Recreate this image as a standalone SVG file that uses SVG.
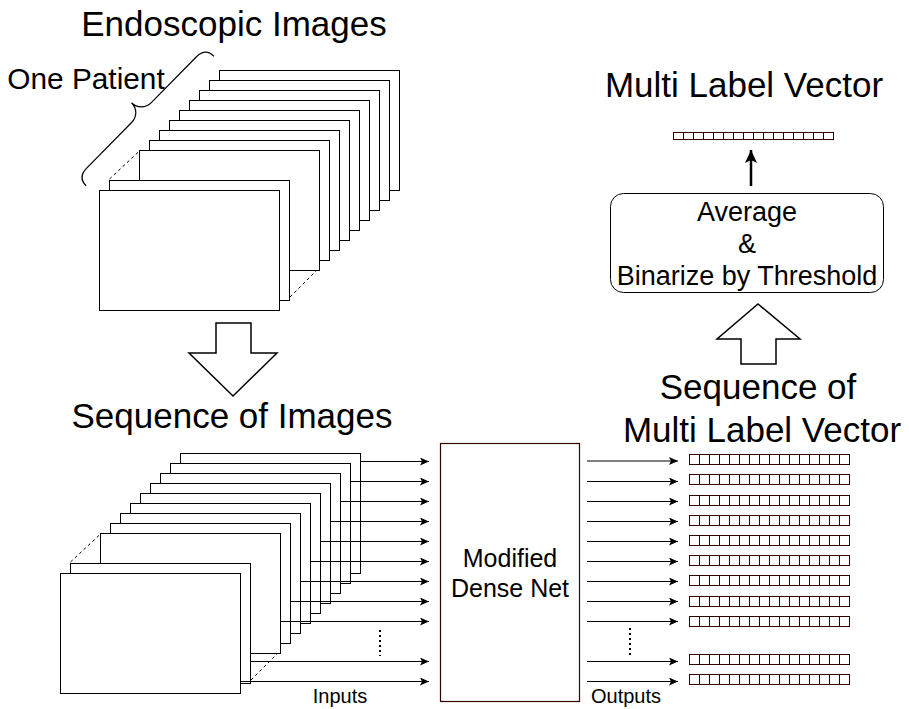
<svg xmlns="http://www.w3.org/2000/svg" xmlns:xlink="http://www.w3.org/1999/xlink" width="909" height="709" viewBox="0 0 909 709">
<style>
.img{fill:#fff;stroke:#000;stroke-width:1}
.dash{fill:none;stroke:#000;stroke-width:1;stroke-dasharray:3,3}
.dots{fill:none;stroke:#000;stroke-width:2;stroke-dasharray:2,3}
.conn{fill:none;stroke:#000;stroke-width:1}
.cell{fill:#fff;stroke:#330000;stroke-width:1}
.block{fill:#fff;stroke:#000;stroke-width:1.5}
text{font-family:"Liberation Sans",Arial,sans-serif;fill:#000}
.big{font-size:35px}
.mid{font-size:25px}
.sm{font-size:20px}
.box{font-size:27px}
</style>
<defs>
<marker id="ah" markerWidth="10" markerHeight="8" refX="9" refY="4" orient="auto" markerUnits="userSpaceOnUse">
<path d="M0,0 L9,4 L0,8 L2,4 Z" fill="#000"/>
</marker>
<marker id="ahBig" markerWidth="14" markerHeight="12" refX="13" refY="6" orient="auto" markerUnits="userSpaceOnUse">
<path d="M0,0 L13,6 L0,12 L3,6 Z" fill="#000"/>
</marker>
<g id="vec10">
<rect class="cell" x="0" y="0" width="160" height="10"/>
<path class="cell" d="M10,0v10M20,0v10M30,0v10M40,0v10M50,0v10M60,0v10M70,0v10M80,0v10M90,0v10M100,0v10M110,0v10M120,0v10M130,0v10M140,0v10M150,0v10"/>
</g>
<g id="vec7">
<rect class="cell" x="0" y="0" width="160" height="7"/>
<path class="cell" d="M10,0v7M20,0v7M30,0v7M40,0v7M50,0v7M60,0v7M70,0v7M80,0v7M90,0v7M100,0v7M110,0v7M120,0v7M130,0v7M140,0v7M150,0v7"/>
</g>
</defs>
<rect width="909" height="709" fill="#fff"/>

<g id="title-endoscopic"><text class="big" x="234" y="36" text-anchor="middle">Endoscopic Images</text></g>
<g id="label-one-patient"><text x="86" y="89" text-anchor="middle" style="font-size:29.8px">One Patient</text></g>
<g id="brace"><path d="M-91,0 C-91,-8 -86,-12 -78,-12 L-14,-12 C-6,-12 0,-18 0,-26 C0,-18 6,-12 14,-12 L78,-12 C86,-12 91,-8 91,0" fill="none" stroke="#000" stroke-width="1.2" transform="translate(150,121) rotate(-45.4)"/></g>

<g id="stack-top">
<rect class="img" x="219.5" y="70.5" width="180" height="120"/>
<rect class="img" x="209.5" y="80.5" width="180" height="120"/>
<rect class="img" x="199.5" y="90.5" width="180" height="120"/>
<rect class="img" x="189.5" y="100.5" width="180" height="120"/>
<rect class="img" x="179.5" y="110.5" width="180" height="120"/>
<rect class="img" x="169.5" y="120.5" width="180" height="120"/>
<rect class="img" x="159.5" y="130.5" width="180" height="120"/>
<rect class="img" x="149.5" y="140.5" width="180" height="120"/>
<rect class="img" x="139.5" y="150.5" width="180" height="120"/>
<path class="dash" d="M109.5,179 L139.5,151 M290,297 L316,271"/>
<rect class="img" x="109.5" y="180.5" width="180" height="120"/>
<rect class="img" x="99.5" y="190.5" width="180" height="120"/>
</g>

<g id="arrow-down"><polygon class="block" points="216,323 251,323 251,353 277,353 233,396 189,353 216,353"/></g>

<g id="title-sequence-images"><text class="big" x="232" y="428" text-anchor="middle">Sequence of Images</text></g>

<g id="stack-bottom">
<rect class="img" x="180.5" y="453.5" width="180" height="120"/>
<rect class="img" x="170.5" y="463.5" width="180" height="120"/>
<rect class="img" x="160.5" y="473.5" width="180" height="120"/>
<rect class="img" x="150.5" y="483.5" width="180" height="120"/>
<rect class="img" x="140.5" y="493.5" width="180" height="120"/>
<rect class="img" x="130.5" y="503.5" width="180" height="120"/>
<rect class="img" x="120.5" y="513.5" width="180" height="120"/>
<rect class="img" x="110.5" y="523.5" width="180" height="120"/>
<rect class="img" x="100.5" y="533.5" width="180" height="120"/>
<path class="dash" d="M70.5,562 L100.5,534 M251,680 L277,654"/>
<rect class="img" x="70.5" y="563.5" width="180" height="120"/>
<rect class="img" x="60.5" y="573.5" width="180" height="120"/>
</g>

<g id="dense-net">
<rect x="440.5" y="443.5" width="139" height="258" fill="#fff" stroke="#330000" stroke-width="1.2"/>
<text class="mid" x="510" y="567" text-anchor="middle">Modified</text>
<text class="mid" x="510" y="597" text-anchor="middle">Dense Net</text>
</g>

<g id="connectors">
<path class="conn" marker-end="url(#ah)" d="M361,461.5H429"/>
<path class="conn" marker-end="url(#ah)" d="M351,481.5H429"/>
<path class="conn" marker-end="url(#ah)" d="M341,501.5H429"/>
<path class="conn" marker-end="url(#ah)" d="M331,521.5H429"/>
<path class="conn" marker-end="url(#ah)" d="M321,541.5H429"/>
<path class="conn" marker-end="url(#ah)" d="M311,561.5H429"/>
<path class="conn" marker-end="url(#ah)" d="M301,581.5H429"/>
<path class="conn" marker-end="url(#ah)" d="M291,601.5H429"/>
<path class="conn" marker-end="url(#ah)" d="M281,621.5H429"/>
<path class="conn" marker-end="url(#ah)" d="M251,661.5H429"/>
<path class="conn" marker-end="url(#ah)" d="M241,681.5H429"/>
<path class="dots" d="M380,630V656"/>

<path class="conn" marker-end="url(#ah)" d="M587,461H678"/>
<path class="conn" marker-end="url(#ah)" d="M587,481.5H678"/>
<path class="conn" marker-end="url(#ah)" d="M587,501.5H678"/>
<path class="conn" marker-end="url(#ah)" d="M587,521.5H678"/>
<path class="conn" marker-end="url(#ah)" d="M587,541.5H678"/>
<path class="conn" marker-end="url(#ah)" d="M587,561.5H678"/>
<path class="conn" marker-end="url(#ah)" d="M587,581.5H678"/>
<path class="conn" marker-end="url(#ah)" d="M587,601.5H678"/>
<path class="conn" marker-end="url(#ah)" d="M587,621.5H678"/>
<path class="conn" marker-end="url(#ah)" d="M587,661.5H678"/>
<path class="conn" marker-end="url(#ah)" d="M587,681.5H678"/>
<path class="dots" d="M630,628V656"/>

<path class="conn" marker-end="url(#ahBig)" d="M751,186V150" style="stroke-width:2.5"/>
</g>

<g id="label-inputs"><text class="sm" x="340" y="703" text-anchor="middle">Inputs</text></g>
<g id="label-outputs"><text class="sm" x="626" y="703" text-anchor="middle">Outputs</text></g>

<g id="output-vectors">
<use xlink:href="#vec10" transform="translate(689.5,454.5)"/>
<use xlink:href="#vec10" transform="translate(689.5,474.5)"/>
<use xlink:href="#vec10" transform="translate(689.5,495.5)"/>
<use xlink:href="#vec10" transform="translate(689.5,515.5)"/>
<use xlink:href="#vec10" transform="translate(689.5,535.5)"/>
<use xlink:href="#vec10" transform="translate(689.5,555.5)"/>
<use xlink:href="#vec10" transform="translate(689.5,575.5)"/>
<use xlink:href="#vec10" transform="translate(689.5,596.5)"/>
<use xlink:href="#vec10" transform="translate(689.5,616.5)"/>
<use xlink:href="#vec10" transform="translate(689.5,654.5)"/>
<use xlink:href="#vec10" transform="translate(689.5,674.5)"/>
</g>

<g id="title-sequence-mlv">
<text class="big" x="758" y="399" text-anchor="middle">Sequence of</text>
<text class="big" x="762" y="442" text-anchor="middle">Multi Label Vector</text>
</g>

<g id="arrow-up"><polygon class="block" points="758,304 800,339 776,339 776,364 741,364 741,339 717,339"/></g>

<g id="average-box">
<rect x="610.5" y="193.5" width="273" height="99" rx="13" ry="13" fill="#fff" stroke="#000" stroke-width="1"/>
<text class="box" x="747" y="221" text-anchor="middle">Average</text>
<text class="box" x="747" y="253" text-anchor="middle">&amp;</text>
<text class="box" x="747" y="285" text-anchor="middle">Binarize by Threshold</text>
</g>

<g id="result-vector"><use xlink:href="#vec7" transform="translate(673.5,132.5)"/></g>

<g id="title-mlv"><text class="big" x="744" y="97" text-anchor="middle">Multi Label Vector</text></g>
</svg>
